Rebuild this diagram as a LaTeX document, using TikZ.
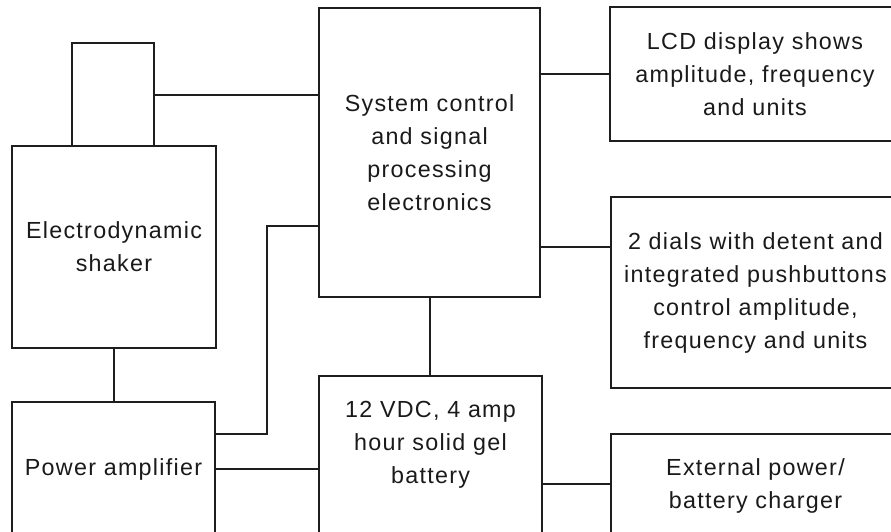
\documentclass[tikz,border=0pt]{standalone}
\usepackage{fontspec}
\newfontfamily\diagfont[LetterSpace=5.5]{Liberation Sans}
\usetikzlibrary{positioning,calc}
\definecolor{inkline}{HTML}{1E1E1E}
\definecolor{inktext}{HTML}{1A1A1A}

\begin{document}
\begin{tikzpicture}[
  x=1pt, y=-1pt,
  font=\diagfont\fontsize{23.3}{33}\selectfont,
  blk/.style = {draw=inkline, line width=2pt, fill=white, text=inktext,
                align=center, inner sep=0pt},
  txt/.style = {text=inktext, align=center, inner sep=0pt},
  ln/.style  = {draw=inkline, line width=2pt},
]
\useasboundingbox (0,0) rectangle (891,531);

% --- left column: shaker and its amplifier -------------------------------------------------------
\node[blk, minimum width=82pt,  minimum height=103pt] (mount)  at (113,94.5) {};
\node[blk, minimum width=204pt, minimum height=202pt] (shaker) at (114,247)
  {Electrodynamic\\shaker};
\node[blk, minimum width=203pt, minimum height=134pt] (amp)    at (113.5,469)
  {Power amplifier};

% --- middle column: control electronics and battery ----------------------------------------------
\node[blk, minimum width=221pt, minimum height=289pt] (sys)  at (429.5,152.5)
  {System control\\and signal\\processing\\electronics};
\node[blk, minimum width=223pt, minimum height=184pt] (batt) at (430.5,468) {};
\node[txt] (batttxt) at ([yshift=-70pt]batt.north) {12 VDC, 4 amp\\hour solid gel\\battery};

% --- right column: user interface and charger ----------------------------------------------------
\node[blk, minimum width=290pt, minimum height=134pt] (lcd)     at (755,74)
  {LCD display shows\\amplitude, frequency\\and units};
\node[blk, minimum width=289pt, minimum height=191pt] (dials)   at (755.5,292.5)
  {2 dials with detent and\\integrated pushbuttons\\control amplitude,\\frequency and units};
\node[blk, minimum width=289pt, minimum height=104pt] (charger) at (755.5,486)
  {External power/\\battery charger};

% --- wiring --------------------------------------------------------------------------------------
\coordinate (ampout) at ([yshift=35pt]amp.east);
\coordinate (sysin)  at ([yshift=-73.5pt]sys.west);

\draw[ln] (mount.east) -- (mount.east -| sys.west);
\draw[ln] (shaker.south) -- (shaker.south |- amp.north);
\draw[ln] (ampout) -| ($(ampout)!0.5!(sysin)$) |- (sysin);
\draw[ln] (amp.east) -- (amp.east -| batt.west);
\draw[ln] (sys.south) -- (sys.south |- batt.north);
\draw[ln] (lcd.west -| sys.east) -- (lcd.west);
\draw[ln] ([yshift=45.5pt]dials.west -| sys.east) -- ([yshift=45.5pt]dials.west);
\draw[ln] ([yshift=2pt]charger.west -| batt.east) -- ([yshift=2pt]charger.west);

\end{tikzpicture}
\end{document}
